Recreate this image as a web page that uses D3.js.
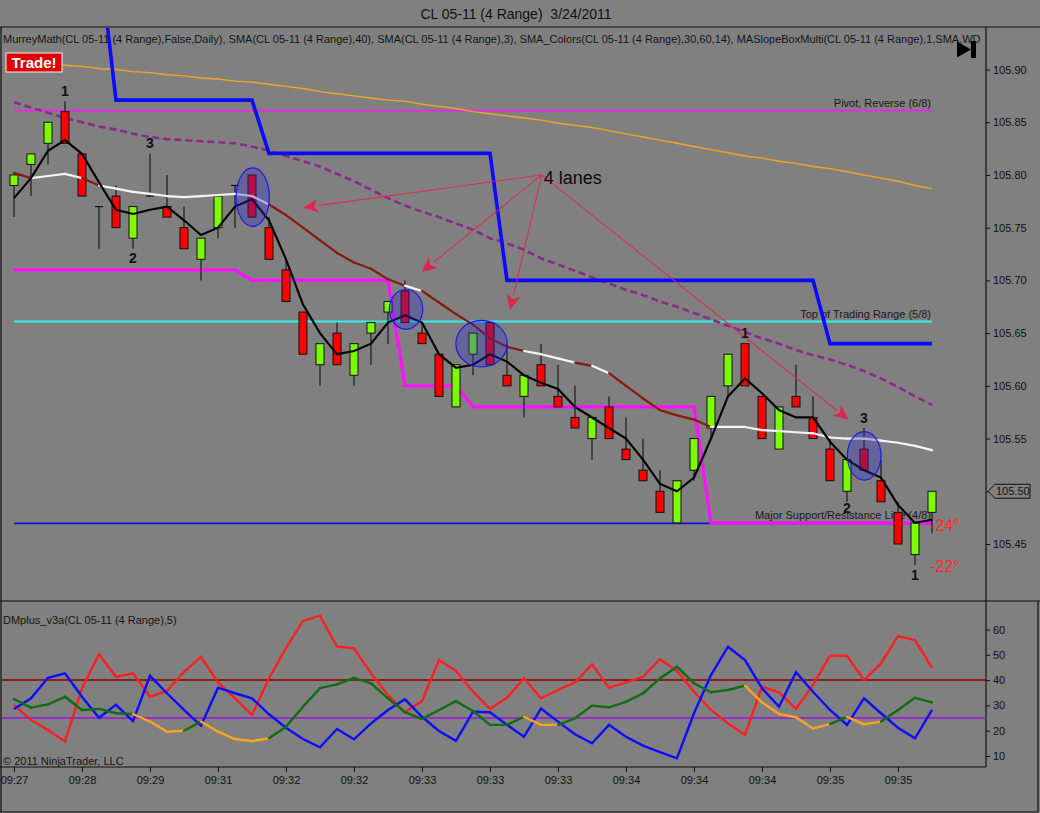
<!DOCTYPE html>
<html><head><meta charset="utf-8">
<script src="https://cdn.jsdelivr.net/npm/d3@7/dist/d3.min.js"></script>
<style>
html,body{margin:0;padding:0;background:#808080;overflow:hidden}
svg{display:block}
text{font-family:"Liberation Sans",Arial,sans-serif}
</style>
</head><body>
<svg id="c" width="1040" height="813"></svg>
<script>
// ---------- DATA ----------
const title = "CL 05-11 (4 Range)\u00A0 3/24/2011";
const headerText = "MurreyMath(CL 05-11 (4 Range),False,Daily), SMA(CL 05-11 (4 Range),40), SMA(CL 05-11 (4 Range),3), SMA_Colors(CL 05-11 (4 Range),30,60,14), MASlopeBoxMulti(CL 05-11 (4 Range),1,SMA,WD";
const dmTitle = "DMplus_v3a(CL 05-11 (4 Range),5)";
const copyright = "\u00A9 2011 NinjaTrader, LLC";

const opens  = [105.79,105.81,105.83,105.86,105.82,105.77,105.78,105.74,105.78,105.77,105.75,105.72,105.75,105.79,105.80,105.75,105.71,105.67,105.62,105.65,105.61,105.65,105.67,105.69,105.65,105.63,105.58,105.63,105.66,105.61,105.59,105.62,105.59,105.57,105.55,105.58,105.54,105.52,105.50,105.47,105.52,105.56,105.60,105.64,105.59,105.54,105.59,105.57,105.54,105.50,105.54,105.51,105.48,105.44,105.48];
const highs  = [105.80,105.82,105.85,105.87,105.82,105.77,105.79,105.77,105.82,105.80,105.77,105.74,105.78,105.79,105.80,105.76,105.72,105.67,105.64,105.66,105.64,105.66,105.68,105.70,105.66,105.63,105.62,105.65,105.66,105.64,105.61,105.64,105.62,105.60,105.57,105.59,105.57,105.55,105.52,105.51,105.55,105.59,105.63,105.64,105.59,105.58,105.62,105.59,105.55,105.53,105.56,105.53,105.49,105.47,105.50];
const lows   = [105.76,105.78,105.81,105.83,105.78,105.73,105.75,105.73,105.78,105.76,105.73,105.70,105.74,105.75,105.76,105.72,105.68,105.63,105.60,105.62,105.60,105.62,105.64,105.66,105.64,105.59,105.58,105.61,105.62,105.60,105.57,105.60,105.58,105.56,105.53,105.55,105.53,105.51,105.48,105.47,105.51,105.55,105.59,105.60,105.55,105.54,105.58,105.55,105.51,105.49,105.52,105.49,105.45,105.43,105.46];
const closes = [105.80,105.82,105.85,105.83,105.78,105.77,105.75,105.77,105.78,105.76,105.73,105.74,105.78,105.79,105.76,105.72,105.68,105.63,105.64,105.62,105.64,105.66,105.68,105.66,105.64,105.59,105.62,105.65,105.62,105.60,105.61,105.60,105.58,105.56,105.57,105.55,105.53,105.51,105.48,105.51,105.55,105.59,105.63,105.60,105.55,105.58,105.58,105.55,105.51,105.53,105.52,105.49,105.45,105.47,105.50];

const sma3 = [105.778,105.797,105.823,105.833,105.820,105.793,105.767,105.763,105.767,105.770,105.757,105.743,105.750,105.770,105.777,105.757,105.720,105.677,105.650,105.630,105.633,105.640,105.660,105.667,105.660,105.630,105.617,105.620,105.630,105.623,105.610,105.603,105.597,105.580,105.570,105.560,105.550,105.530,105.507,105.500,105.513,105.550,105.590,105.607,105.593,105.577,105.570,105.570,105.547,105.530,105.520,105.513,105.487,105.470,105.473];
const smaColorsLine = [105.802,105.797,105.799,105.801,105.797,105.790,105.787,105.784,105.782,105.780,105.779,105.780,105.781,105.782,105.780,105.772,105.762,105.750,105.738,105.726,105.717,105.711,105.701,105.695,105.690,105.679,105.668,105.658,105.645,105.637,105.633,105.630,105.626,105.622,105.619,105.612,105.600,105.588,105.577,105.572,105.568,105.561,105.561,105.561,105.558,105.557,105.556,105.555,105.551,105.550,105.550,105.548,105.546,105.543,105.539];
// segment state: r = falling (dark red), w = flat (white)
const smaColorsState = ["r","w","w","w","r","w","w","w","w","w","w","w","w","w","w","r","r","r","r","r","r","r","r","w","r","r","r","r","r","r","w","w","w","r","w","r","r","r","r","r","r","w","w","w","w","w","w","w","w","w","w","w","w","w"];
const sma40 = [105.869,105.864,105.859,105.854,105.850,105.846,105.843,105.839,105.836,105.834,105.833,105.832,105.831,105.830,105.827,105.823,105.818,105.813,105.808,105.801,105.794,105.786,105.778,105.771,105.765,105.760,105.754,105.748,105.740,105.735,105.729,105.721,105.715,105.709,105.703,105.697,105.691,105.686,105.680,105.675,105.669,105.663,105.657,105.651,105.645,105.640,105.634,105.629,105.625,105.620,105.614,105.607,105.599,105.590,105.582];
const smaLong = [105.908,105.907,105.905,105.904,105.903,105.901,105.900,105.898,105.897,105.895,105.894,105.892,105.891,105.889,105.888,105.886,105.884,105.882,105.879,105.877,105.875,105.873,105.871,105.870,105.867,105.865,105.863,105.860,105.858,105.856,105.854,105.852,105.849,105.847,105.845,105.842,105.839,105.836,105.833,105.830,105.827,105.824,105.821,105.818,105.816,105.813,105.811,105.808,105.806,105.803,105.800,105.797,105.794,105.790,105.787];
const slopeBoxUpper = [null,null,null,null,null,106.01,105.871,105.871,105.871,105.871,105.871,105.871,105.871,105.871,105.871,105.8205,105.8205,105.8205,105.8205,105.8205,105.8205,105.8205,105.8205,105.8205,105.8205,105.8205,105.8205,105.8205,105.8205,105.70,105.70,105.70,105.70,105.70,105.70,105.70,105.70,105.70,105.70,105.70,105.70,105.70,105.70,105.70,105.70,105.70,105.70,105.70,105.64,105.64,105.64,105.64,105.64,105.64,105.64];
const slopeBoxLower = [105.71,105.71,105.71,105.71,105.71,105.71,105.71,105.71,105.71,105.71,105.71,105.71,105.71,105.71,105.70,105.70,105.70,105.70,105.70,105.70,105.70,105.70,105.70,105.60,105.60,105.60,105.60,105.58,105.58,105.58,105.58,105.58,105.58,105.58,105.58,105.58,105.58,105.58,105.58,105.58,105.58,105.47,105.47,105.47,105.47,105.47,105.47,105.47,105.47,105.47,105.47,105.47,105.47,105.47,105.47];

const murreyValues = [105.861, 105.661, 105.4696];
const murreyLabels = ["Pivot, Reverse (6/8)", "Top of Trading Range (5/8)", "Major Support/Resistance Line (4/8)"];

const priceTicks = [105.45,105.50,105.55,105.60,105.65,105.70,105.75,105.80,105.85,105.90];
const lastPrice = 105.50;

const dmPlus  = [30.2,24.2,20.3,15.7,36.8,50.2,41.3,42.7,33.4,35.7,43.3,49.2,39.1,32.8,26.2,40.7,52.6,63.4,65.5,53.2,52.6,42.7,34.1,27.3,31.7,47.9,43.6,35.4,28.6,33.0,40.7,32.8,36.1,39.1,46.2,37.0,39.1,41.3,48.2,43.6,35.4,28.2,22.9,18.3,37.4,35.2,28.6,38.1,49.6,49.6,40.0,46.6,57.4,55.8,44.9];
const dmMinus = [28.6,32.8,40.9,42.7,33.4,25.1,30.2,23.8,41.7,34.8,28.2,22.0,37.0,34.8,32.8,26.5,21.2,16.7,13.4,20.7,16.6,22.9,28.2,32.4,25.5,19.9,16.0,27.5,27.3,22.3,17.6,28.8,23.6,18.6,15.0,22.3,17.6,14.1,11.5,9.1,26.9,42.0,53.2,47.9,36.8,29.5,43.1,35.4,28.2,22.3,32.8,26.9,21.2,17.0,28.2];
const adx     = [32.5,29.1,30.4,33.4,28.2,28.6,26.9,26.6,23.6,19.6,20.0,23.6,19.6,16.7,15.9,17.0,21.6,29.5,36.8,38.3,40.9,38.7,32.8,27.3,24.6,28.2,31.7,27.8,22.3,22.3,25.5,22.3,22.3,24.9,29.9,29.2,31.4,34.8,40.7,45.3,38.7,35.2,36.1,37.8,31.2,26.6,25.3,20.9,22.6,25.5,22.5,23.6,28.2,33.0,31.2];
// segment state: g = rising (green), o = falling (orange)
const adxState = ["g","g","g","g","g","g","g","o","o","o","g","o","o","o","o","g","g","g","g","g","g","g","g","g","g","g","g","g","g","g","o","o","g","g","g","g","g","g","g","g","g","g","g","o","o","o","o","o","g","o","o","g","g","g"];
const dmLevels = [40, 25];
const dmTicks = [10,20,30,40,50,60];

const timeTickBars = [0,4,8,12,16,20,24,28,32,36,40,44,48,52];
const timeTickLabels = ["09:27","09:28","09:29","09:31","09:32","09:32","09:33","09:33","09:33","09:34","09:34","09:34","09:35","09:35"];

// highlighted setups: centre bar, centre price, half width (bars), half height (price)
const hlBar = [14.04, 23.06, 27.5, 50.01];
const hlPrice = [105.779, 105.6726, 105.640, 105.5336];
const hlHalfBars = [0.98, 0.98, 1.51, 0.99];
const hlHalfPrice = [0.0277, 0.019, 0.0221, 0.023];

// swing labels
const swingBar = [3, 8, 7, 43, 50, 49, 53];
const swingPrice = [105.8796, 105.830, 105.721, 105.650, 105.5697, 105.484, 105.4206];
const swingText = ["1","3","2","1","3","2","1"];

// "4 lanes" annotation
const lanesText = "4 lanes";
const lanesFrom = [31.04, 105.80];
const lanesToBar = [17.02, 23.98, 29.18, 49.08];
const lanesToPrice = [105.769, 105.708, 105.672, 105.568];

const angleText = ["-24\u00B0", "-22\u00B0"];
const angleBar = [53.88, 53.88];
const anglePrice = [105.468, 105.429];

// ---------- DRAW ----------
const svg = d3.select("#c");
const W = 1040, H = 813, topY = 27, sepY = 601, botY = 767, axisX = 986;

const x = d3.scaleLinear().domain([0, 54]).range([14, 932]);
const y = d3.scaleLinear().domain([105.45, 105.90]).range([544, 69.5]);
const y2 = d3.scaleLinear().domain([10, 60]).range([756, 629.5]);

svg.append("rect").attr("width", W).attr("height", H).attr("fill", "#808080");

const defs = svg.append("defs");
defs.append("clipPath").attr("id", "clipTop").append("rect").attr("x", 2).attr("y", topY + 1).attr("width", axisX - 2).attr("height", sepY - topY - 1);
defs.append("clipPath").attr("id", "clipBot").append("rect").attr("x", 2).attr("y", sepY + 1).attr("width", axisX - 2).attr("height", botY - sepY - 1);
defs.append("clipPath").attr("id", "clipHead").append("rect").attr("x", 0).attr("y", 0).attr("width", axisX - 1).attr("height", 60);

// title
svg.append("text").attr("x", 516).attr("y", 19).attr("text-anchor", "middle").attr("font-size", 14).attr("fill", "#111").text(title);

// frame lines
const frame = svg.append("g").attr("stroke", "#111").attr("stroke-width", 1.2).attr("fill", "none");
frame.append("line").attr("x1", 0).attr("x2", W).attr("y1", topY).attr("y2", topY);
frame.append("line").attr("x1", 1).attr("x2", 1).attr("y1", topY).attr("y2", H - 1);
frame.append("line").attr("x1", axisX).attr("x2", axisX).attr("y1", topY).attr("y2", botY);
frame.append("line").attr("x1", 0).attr("x2", W).attr("y1", sepY).attr("y2", sepY);
frame.append("line").attr("x1", 0).attr("x2", axisX).attr("y1", botY).attr("y2", botY);
frame.append("line").attr("x1", 0).attr("x2", W - 2).attr("y1", H - 1).attr("y2", H - 1);
frame.append("line").attr("x1", W - 2).attr("x2", W - 2).attr("y1", sepY).attr("y2", H - 1);

// ---------- top panel ----------
const topG = svg.append("g").attr("clip-path", "url(#clipTop)");
const idx = d3.range(opens.length);

// murrey levels
const levelColors = ["#f020f0", "#38eeee", "#1010d8"];
murreyValues.forEach((v, i) => {
  const ly0 = y(v);
  topG.append("line").attr("x1", x(0)).attr("x2", x(54)).attr("y1", ly0).attr("y2", ly0)
    .attr("stroke", levelColors[i]).attr("stroke-width", 1.8);
  topG.append("text").attr("x", x(54) - 1).attr("y", ly0 - 4).attr("text-anchor", "end")
    .attr("font-size", 11).attr("fill", "#1a1a1a").text(murreyLabels[i]);
});

// orange long SMA
topG.append("path").datum(idx).attr("fill", "none").attr("stroke", "#f0a424").attr("stroke-width", 1.4)
  .attr("d", d3.line().x(i => x(i)).y(i => y(smaLong[i])));

// purple dashed SMA40
topG.append("path").datum(idx).attr("fill", "none").attr("stroke", "#8a2a8a").attr("stroke-width", 2.6)
  .attr("stroke-dasharray", "7,4")
  .attr("d", d3.line().x(i => x(i)).y(i => y(sma40[i])));

// slope boxes
topG.append("path").datum(idx.filter(i => slopeBoxUpper[i] !== null)).attr("fill", "none").attr("stroke", "#0a0aff").attr("stroke-width", 3.6)
  .attr("d", d3.line().x(i => x(i)).y(i => y(slopeBoxUpper[i])));
topG.append("path").datum(idx).attr("fill", "none").attr("stroke", "#ff10ff").attr("stroke-width", 3.2)
  .attr("d", d3.line().x(i => x(i)).y(i => y(slopeBoxLower[i])));

// candles
const cg = topG.append("g");
idx.forEach(i => {
  const cx = x(i), o = opens[i], c = closes[i];
  cg.append("line").attr("x1", cx).attr("x2", cx).attr("y1", y(highs[i])).attr("y2", y(lows[i]))
    .attr("stroke", "#111").attr("stroke-width", 1.1);
  if (o === c) {
    cg.append("line").attr("x1", cx - 4).attr("x2", cx + 4).attr("y1", y(o)).attr("y2", y(o))
      .attr("stroke", "#111").attr("stroke-width", 1.2);
  } else {
    const t = Math.max(o, c), b = Math.min(o, c);
    cg.append("rect").attr("x", cx - 4).attr("y", y(t)).attr("width", 8).attr("height", y(b) - y(t))
      .attr("fill", c > o ? "#7cfc00" : "#ff0000").attr("stroke", "#111").attr("stroke-width", 1);
  }
});

// SMA colours line (segmented)
for (let i = 0; i < smaColorsLine.length - 1; i++) {
  topG.append("line").attr("x1", x(i)).attr("x2", x(i + 1)).attr("y1", y(smaColorsLine[i])).attr("y2", y(smaColorsLine[i + 1]))
    .attr("stroke", smaColorsState[i] === "w" ? "#f4f4f4" : "#8b1a0e").attr("stroke-width", 2.2).attr("stroke-linecap", "round");
}

// SMA3 black
topG.append("path").datum(idx).attr("fill", "none").attr("stroke", "#050505").attr("stroke-width", 2.2)
  .attr("d", d3.line().x(i => x(i)).y(i => y(sma3[i])));

// highlight ellipses
hlBar.forEach((b, i) => {
  const rx = x(b + hlHalfBars[i]) - x(b), ry = y(hlPrice[i] - hlHalfPrice[i]) - y(hlPrice[i]);
  topG.append("ellipse").attr("cx", x(b)).attr("cy", y(hlPrice[i])).attr("rx", rx).attr("ry", ry)
    .attr("fill", "#2a2ad0").attr("fill-opacity", 0.33).attr("stroke", "#1a1ae8").attr("stroke-width", 1.2);
});

// "4 lanes" arrows
const arrowColor = "#e0264e";
const ox = x(lanesFrom[0]), oy = y(lanesFrom[1]);
lanesToBar.forEach((b, i) => {
  const tx = x(b), ty = y(lanesToPrice[i]);
  const ang = Math.atan2(ty - oy, tx - ox), L = 15, hw = 7;
  const bx = tx - L * Math.cos(ang), by = ty - L * Math.sin(ang);
  topG.append("line").attr("x1", ox).attr("y1", oy).attr("x2", bx).attr("y2", by)
    .attr("stroke", arrowColor).attr("stroke-width", 1.1).attr("stroke-opacity", 0.9);
  const p1 = [bx + hw * Math.sin(ang), by - hw * Math.cos(ang)];
  const p2 = [bx - hw * Math.sin(ang), by + hw * Math.cos(ang)];
  const notch = [tx - (L - 4) * Math.cos(ang), ty - (L - 4) * Math.sin(ang)];
  topG.append("path").attr("d", `M${tx},${ty}L${p1[0]},${p1[1]}L${notch[0]},${notch[1]}L${p2[0]},${p2[1]}Z`)
    .attr("fill", arrowColor);
});
topG.append("text").attr("x", ox + 2).attr("y", oy + 9).attr("font-size", 18).attr("fill", "#0a0a0a").text(lanesText);

// swing labels
swingBar.forEach((b, i) => {
  topG.append("text").attr("x", x(b)).attr("y", y(swingPrice[i]) + 5).attr("text-anchor", "middle")
    .attr("font-size", 14).attr("font-weight", "bold").attr("fill", "#111").text(swingText[i]);
});

// angle labels
angleText.forEach((t, i) => {
  topG.append("text").attr("x", x(angleBar[i])).attr("y", y(anglePrice[i]) + 6).attr("font-size", 16)
    .attr("fill", "#ff2a2a").text(t);
});

// header text & Trade! box & icon
svg.append("text").attr("clip-path", "url(#clipHead)").attr("x", 3).attr("y", 43).attr("font-size", 11)
  .attr("fill", "#151515").text(headerText);
svg.append("rect").attr("x", 6).attr("y", 53).attr("width", 56).attr("height", 19).attr("fill", "#e00000")
  .attr("stroke", "#f2f2f2").attr("stroke-width", 1);
svg.append("text").attr("x", 34).attr("y", 68).attr("text-anchor", "middle").attr("font-size", 15)
  .attr("font-weight", "bold").attr("fill", "#fff").text("Trade!");
svg.append("path").attr("d", "M957,41.5L971,49.5L957,57.5Z").attr("fill", "#000");
svg.append("rect").attr("x", 971).attr("y", 41).attr("width", 5).attr("height", 17).attr("fill", "#000");

// price axis (the 105.50 label is covered by the last-price tag)
const pAxis = svg.append("g").attr("transform", `translate(${axisX},0)`)
  .call(d3.axisRight(y).tickValues(priceTicks).tickFormat(d => d === lastPrice ? "" : d3.format(".2f")(d)).tickSize(4).tickPadding(3));
pAxis.select(".domain").remove();
pAxis.selectAll("line").attr("stroke", "#111");
pAxis.selectAll("text").attr("font-size", 11).attr("fill", "#111").attr("font-family", "Liberation Sans, Arial, sans-serif");

// last price tag
const ly = y(lastPrice);
svg.append("path").attr("d", `M${axisX + 2},${ly}L${axisX + 9},${ly - 7}L${axisX + 44},${ly - 7}L${axisX + 44},${ly + 7}L${axisX + 9},${ly + 7}Z`)
  .attr("fill", "#808080").attr("stroke", "#111").attr("stroke-width", 1);
svg.append("text").attr("x", axisX + 10).attr("y", ly + 4).attr("font-size", 11).attr("fill", "#111").text(lastPrice.toFixed(2));

// ---------- bottom panel ----------
const botG = svg.append("g").attr("clip-path", "url(#clipBot)");
const dmLevelColors = ["#8b0000", "#9a14d8"];
dmLevels.forEach((v, i) => {
  botG.append("line").attr("x1", 2).attr("x2", axisX).attr("y1", y2(v)).attr("y2", y2(v))
    .attr("stroke", dmLevelColors[i]).attr("stroke-width", 1.5);
});
botG.append("path").datum(idx).attr("fill", "none").attr("stroke", "#ff1e1e").attr("stroke-width", 2.4)
  .attr("d", d3.line().x(i => x(i)).y(i => y2(dmPlus[i])));
botG.append("path").datum(idx).attr("fill", "none").attr("stroke", "#0c0cff").attr("stroke-width", 2.4)
  .attr("d", d3.line().x(i => x(i)).y(i => y2(dmMinus[i])));
for (let i = 0; i < adx.length - 1; i++) {
  botG.append("line").attr("x1", x(i)).attr("x2", x(i + 1)).attr("y1", y2(adx[i])).attr("y2", y2(adx[i + 1]))
    .attr("stroke", adxState[i] === "g" ? "#0f6e12" : "#ffa21e").attr("stroke-width", 2.4).attr("stroke-linecap", "round");
}
svg.append("text").attr("x", 3).attr("y", 624).attr("font-size", 11).attr("fill", "#151515").text(dmTitle);
svg.append("text").attr("x", 3).attr("y", 765).attr("font-size", 11).attr("fill", "#151515").text(copyright);

const dAxis = svg.append("g").attr("transform", `translate(${axisX},0)`)
  .call(d3.axisRight(y2).tickValues(dmTicks).tickFormat(d3.format("d")).tickSize(4).tickPadding(3));
dAxis.select(".domain").remove();
dAxis.selectAll("line").attr("stroke", "#111");
dAxis.selectAll("text").attr("font-size", 11).attr("fill", "#111").attr("font-family", "Liberation Sans, Arial, sans-serif");

// time axis
const tAxis = svg.append("g").attr("transform", `translate(0,${botY})`)
  .call(d3.axisBottom(x).tickValues(timeTickBars).tickFormat((d, i) => timeTickLabels[i]).tickSize(5).tickPadding(4));
tAxis.select(".domain").remove();
tAxis.selectAll("line").attr("stroke", "#111");
tAxis.selectAll("text").attr("font-size", 11).attr("fill", "#111").attr("font-family", "Liberation Sans, Arial, sans-serif");
</script>
</body></html>
